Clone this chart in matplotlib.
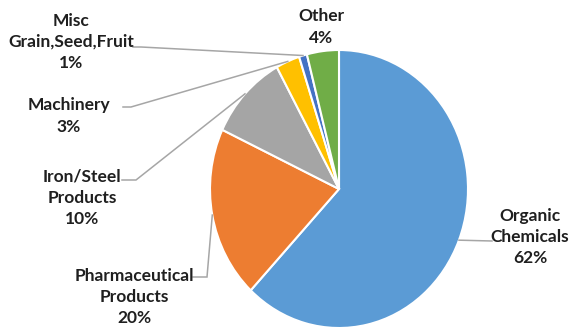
import matplotlib.pyplot as plt
import numpy as np

categories = ["Organic\nChemicals", "Pharmaceutical\nProducts", "Iron/Steel\nProducts",
              "Machinery", "Misc\nGrain,Seed,Fruit", "Other"]
shares = [62, 20, 10, 3, 1, 4]
colors = ["#5B9BD5", "#ED7D31", "#A5A5A5", "#FFC000", "#4472C4", "#70AD47"]

# label placement in pixel coordinates (center of text block) and leader elbows
label_pos = [(530, 237), (134, 297), (82, 198), (69, 116), (71, 42), (321, 27)]
leader_pts = [
    [(492, 241)],
    [(193, 277), (207, 277)],
    [(122, 180), (136, 180)],
    [(123, 107), (131, 107)],
    [(133, 47), (141, 47)],
    None,
]

W, H = 569, 331
cx, cy, rx, ry = 339, 189, 129, 139

fig = plt.figure(figsize=(W / 100, H / 100), dpi=100)
ax = fig.add_axes([0, 0, 1, 1])
wedges, _ = ax.pie(shares, colors=colors, startangle=90, counterclock=False,
                   wedgeprops=dict(edgecolor="white", linewidth=1.5))
ax.set_aspect("auto")
ax.set_xlim(-cx / rx, (W - cx) / rx)
ax.set_ylim(-(H - cy) / ry, cy / ry)
ax.axis("off")


def px(x, y):
    return (x - cx) / rx, (cy - y) / ry


for wedge, name, share, pos, pts in zip(wedges, categories, shares, label_pos, leader_pts):
    x, y = px(*pos)
    ax.text(x, y, f"{name}\n{share}%", ha="center", va="center", fontsize=12.5,
            fontweight="bold", family="Lato", color="#1f1f1f", linespacing=1.42)
    if pts is None:
        continue
    mid = np.deg2rad((wedge.theta1 + wedge.theta2) / 2)
    line = [px(*p) for p in pts] + [(np.cos(mid), np.sin(mid))]
    xs, ys = zip(*line)
    ax.plot(xs, ys, color="#A6A6A6", lw=1.1, solid_joinstyle="miter")

fig.savefig("out.png", dpi=100)
